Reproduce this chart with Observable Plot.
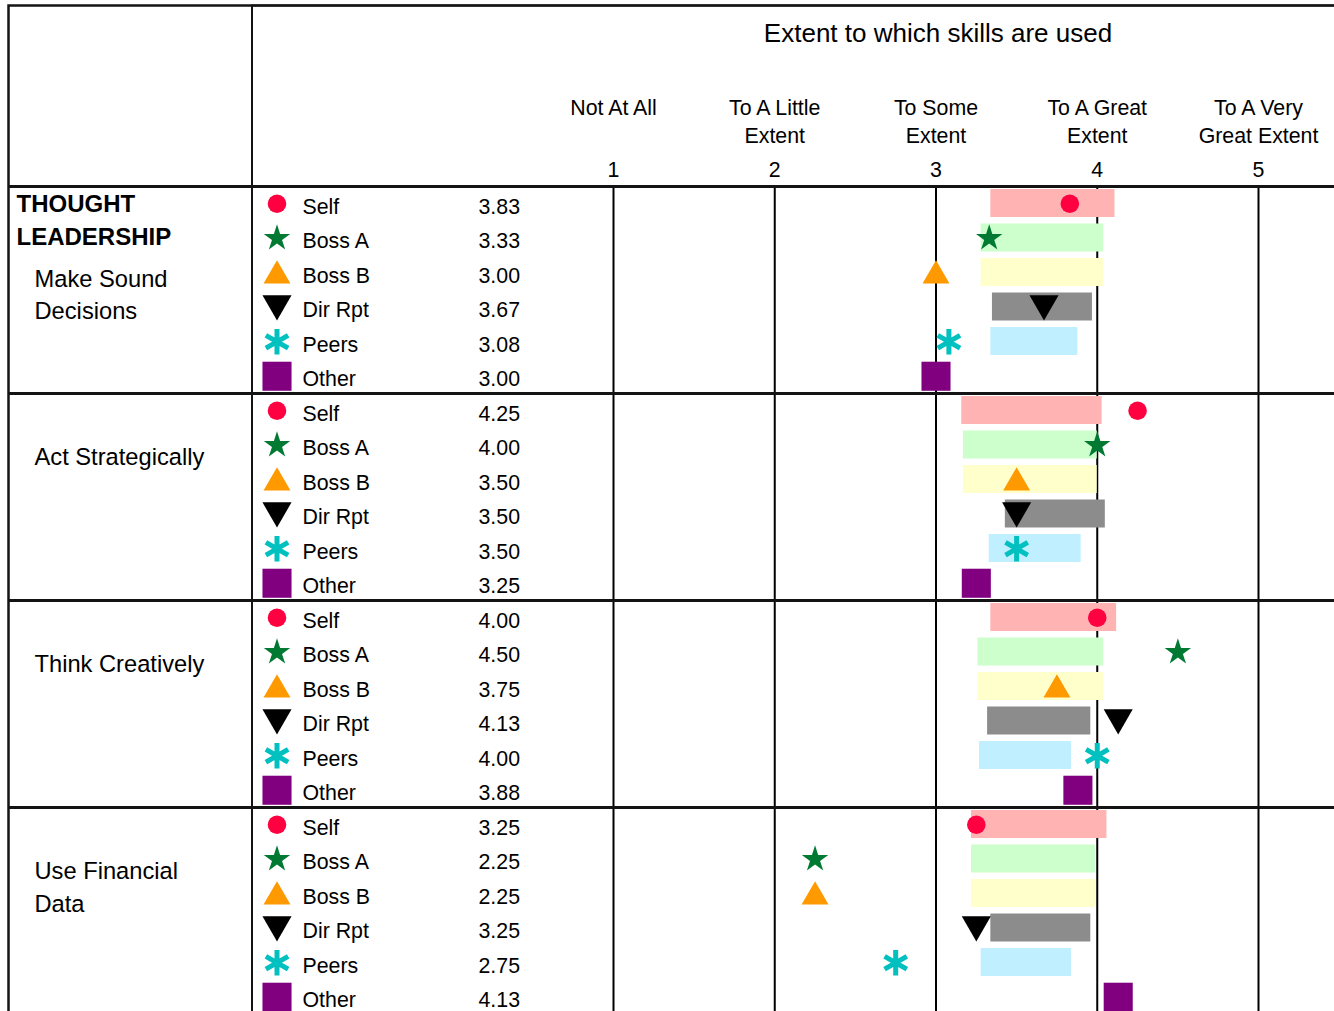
<!DOCTYPE html>
<html>
<head>
<meta charset="utf-8">
<script src="https://cdn.jsdelivr.net/npm/d3@7"></script>
<script src="https://cdn.jsdelivr.net/npm/@observablehq/plot@0.6"></script>
<style>
  html, body { margin: 0; padding: 0; background: #fff; overflow: hidden; }
</style>
</head>
<body>
<div id="chart"></div>
<script>
// ---------- data ----------
const axisTitle = "Extent to which skills are used";
const sectionTitle = "THOUGHT\nLEADERSHIP";
const categories = ["Make Sound\nDecisions", "Act Strategically", "Think Creatively", "Use Financial\nData"];
const raters = ["Self", "Boss A", "Boss B", "Dir Rpt", "Peers", "Other"];
const scaleValues = [1, 2, 3, 4, 5];
const scaleLabels = ["Not At All", "To A Little\nExtent", "To Some\nExtent", "To A Great\nExtent", "To A Very\nGreat Extent"];

// mean scores, in rater order
const scoresMakeSoundDecisions = [3.83, 3.33, 3.00, 3.67, 3.08, 3.00];
const scoresActStrategically   = [4.25, 4.00, 3.50, 3.50, 3.50, 3.25];
const scoresThinkCreatively    = [4.00, 4.50, 3.75, 4.13, 4.00, 3.88];
const scoresUseFinancialData   = [3.25, 2.25, 2.25, 3.25, 2.75, 4.13];

// norm range bars (low / high), in rater order; "Other" has none
const normLowMakeSoundDecisions  = [3.34, 3.28, 3.28, 3.35, 3.34, null];
const normHighMakeSoundDecisions = [4.11, 4.04, 4.04, 3.97, 3.88, null];
const normLowActStrategically    = [3.16, 3.17, 3.17, 3.43, 3.33, null];
const normHighActStrategically   = [4.03, 4.00, 4.00, 4.05, 3.90, null];
const normLowThinkCreatively     = [3.34, 3.26, 3.26, 3.32, 3.27, null];
const normHighThinkCreatively    = [4.12, 4.04, 4.04, 3.96, 3.84, null];
const normLowUseFinancialData    = [3.22, 3.22, 3.22, 3.34, 3.28, null];
const normHighUseFinancialData   = [4.06, 3.99, 3.99, 3.96, 3.84, null];

// ---------- layout & styles ----------
const W = 1334, H = 1011;
const headerH = 186, rowH = 34.5;
const FONT = "'Liberation Sans', Arial, Helvetica, sans-serif";

const scores = [scoresMakeSoundDecisions, scoresActStrategically, scoresThinkCreatively, scoresUseFinancialData];
const lows = [normLowMakeSoundDecisions, normLowActStrategically, normLowThinkCreatively, normLowUseFinancialData];
const highs = [normHighMakeSoundDecisions, normHighActStrategically, normHighThinkCreatively, normHighUseFinancialData];

const nR = raters.length;
const nRows = categories.length * nR;
const rows = categories.flatMap((cat, ci) => raters.map((rater, ri) => ({
  ci, ri, cat, rater, row: ci * nR + ri,
  score: scores[ci][ri], lo: lows[ci][ri], hi: highs[ci][ri]
})));

const raterStyle = {
  "Self":    {symbol: "circle",   fill: "#ff0040", r: 9.3,  bar: "#ffb3b3"},
  "Boss A":  {symbol: "star",     fill: "#007a33", r: 8.3,  bar: "#ccffcc"},
  "Boss B":  {symbol: "triangle", fill: "#ff9900", r: 10,   dy: 3,    bar: "#ffffcc"},
  "Dir Rpt": {symbol: "triangle", fill: "#000000", r: 10.8, dy: -3.5, rotate: 180, bar: "#8c8c8c"},
  "Peers":   {symbol: "asterisk", stroke: "#00c0c0", strokeWidth: 5, r: 12.2, bar: "#c0efff"},
  "Other":   {symbol: "square",   fill: "#800080", r: 16.4, bar: null}
};

const toRow = px => px / rowH;
const sectionLines = sectionTitle.split("\n").map((t, i) => ({t, y: toRow(18 + 32.5 * i)}));
const catLines = categories.flatMap((c, ci) => {
  const off = ci === 0 ? 92.5 : 64;
  return c.split("\n").map((t, li) => ({t, y: ci * nR + toRow(off + 32.5 * li)}));
});

const lineColor = "#141414";

const marks = [
  // borders
  Plot.frame({insetLeft: 8, insetTop: 5, insetRight: -30, insetBottom: -30, stroke: lineColor, strokeWidth: 2.5}),
  Plot.frame({insetLeft: 251.5, insetTop: 5, insetRight: -30, insetBottom: -30, stroke: lineColor, strokeWidth: 2}),
  // vertical grid lines at scale points
  Plot.ruleX(scaleValues, {y1: 0, y2: nRows, stroke: "#000", strokeWidth: 2}),
  // group separators + header bottom
  Plot.ruleY(d3.range(0, nRows, nR), {insetLeft: 8, stroke: lineColor, strokeWidth: 3}),
];

// bars per rater
for (const rater of raters) {
  const s = raterStyle[rater];
  const data = rows.filter(d => d.rater === rater);
  if (s.bar) {
    marks.push(Plot.rect(data.filter(d => d.lo != null), {
      x1: "lo", x2: "hi", y1: d => d.row, y2: d => d.row + 1,
      insetTop: 3, insetBottom: 3.5, fill: s.bar
    }));
  }
}
// markers and legend symbols per rater
for (const rater of raters) {
  const s = raterStyle[rater];
  const data = rows.filter(d => d.rater === rater);
  const dotOpts = {symbol: s.symbol, r: s.r, dy: s.dy || 0};
  if (s.rotate) dotOpts.rotate = s.rotate;
  if (s.fill) { dotOpts.fill = s.fill; dotOpts.stroke = "none"; }
  if (s.stroke) { dotOpts.stroke = s.stroke; dotOpts.strokeWidth = s.strokeWidth; dotOpts.fill = "none"; }
  marks.push(Plot.dot(data, {...dotOpts, x: "score", y: d => d.row + 0.5}));
  marks.push(Plot.dot(data, {...dotOpts, frameAnchor: "left", dx: 276.5, y: d => d.row + 0.5}));
}

marks.push(
  // rater names and values
  Plot.text(rows, {frameAnchor: "left", dx: 302, y: d => d.row + 0.5, dy: 3, text: "rater",
    textAnchor: "start", fontSize: 21.33, fill: "#000"}),
  Plot.text(rows, {frameAnchor: "left", dx: 478, y: d => d.row + 0.5, dy: 3, text: d => d.score.toFixed(2),
    textAnchor: "start", fontSize: 21.33, fill: "#000"}),
  // section and category labels
  Plot.text(sectionLines, {frameAnchor: "left", dx: 16, y: "y", text: "t", textAnchor: "start",
    fontSize: 24, fontWeight: "bold", fill: "#000"}),
  Plot.text(catLines, {frameAnchor: "left", dx: 34, y: "y", text: "t", textAnchor: "start",
    fontSize: 23.7, fill: "#000"}),
  // header
  Plot.text([axisTitle], {x: d3.mean(scaleValues), dx: 2, frameAnchor: "top", lineAnchor: "middle", dy: 33.5,
    text: d => d, fontSize: 26, fill: "#000"}),
  Plot.text(scaleValues, {x: d => d, frameAnchor: "top", dy: 94.7, text: (d, i) => scaleLabels[i],
    lineAnchor: "top", lineHeight: 1.3146, fontSize: 21.33, fill: "#000"}),
  Plot.text(scaleValues, {x: d => d, frameAnchor: "top", lineAnchor: "middle", dy: 170, text: d => String(d),
    fontSize: 21.33, fill: "#000"})
);

const chart = Plot.plot({
  width: W, height: H, margin: 0,
  x: {domain: [1, 5], range: [613, 1258], axis: null},
  y: {domain: [0, nRows], range: [headerH, headerH + nRows * rowH], axis: null},
  style: {fontFamily: FONT, background: "#fff", color: "#000", overflow: "hidden"},
  marks
});
document.getElementById("chart").appendChild(chart);
</script>
</body>
</html>
